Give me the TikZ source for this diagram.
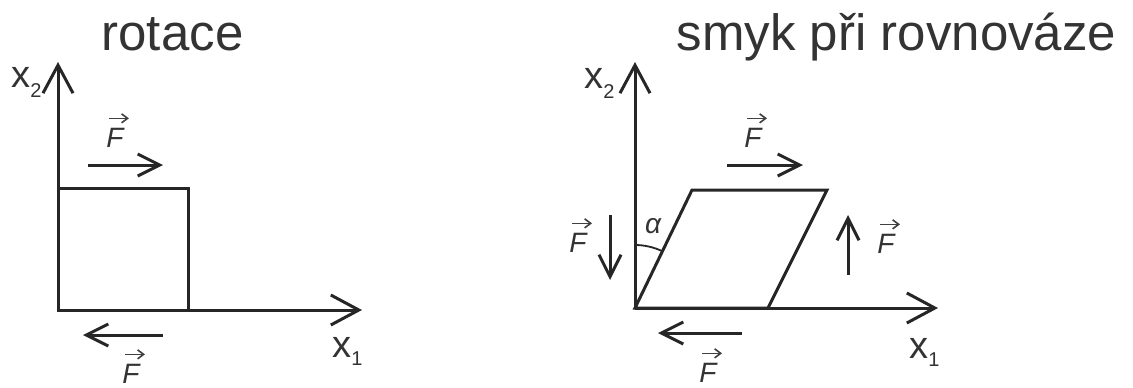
\documentclass[tikz,border=0pt]{standalone}
\usepackage{fontspec}
\setmainfont{Liberation Sans}
\usetikzlibrary{arrows.meta}
\begin{document}
\begin{tikzpicture}[x=0.5pt,y=-0.5pt,
  ink/.style={draw=black!85, line width=1.5pt},
  axis/.style={ink, -{Straight Barb[length=14pt,width=15pt]}},
  force/.style={ink, -{Straight Barb[length=11pt,width=11pt]}},
  vecarr/.style={draw=black!75, line width=0.8pt, -{Straight Barb[length=3pt,width=4.5pt]}},
  lbl/.style={text=black!80, inner sep=0pt, anchor=base},
  ttl/.style={lbl, font=\fontsize{25.5}{30}\selectfont},
  flbl/.style={lbl, font=\fontsize{14}{16}\selectfont\itshape},
  albl/.style={lbl, font=\fontsize{14}{16}\selectfont\itshape},
  xlbl/.style={lbl, anchor=base west, font=\fontsize{19}{21}\selectfont}]
\useasboundingbox (0,0) rectangle (1133,387);
\fill[white] (0,0) rectangle (1133,387);

% ---------- titles ----------
\node[ttl] (t1) at (172.5,50) {rotace};
\node[ttl] (t2) at (896.5,50) {smyk při rovnováze};

% ---------- left: rotation ----------
\coordinate (O1) at (58,310);
\coordinate (Y1) at (58,62);
\coordinate (X1) at (362,310);
\coordinate (S1) at (188,188);
\draw[axis] (O1) -- (Y1);
\draw[axis] (O1) -- (X1);
\draw[ink, line join=miter] (O1) rectangle (S1);

\coordinate (FT1a) at (88,165);  \coordinate (FT1b) at (163,165);
\coordinate (FB1a) at (163,335); \coordinate (FB1b) at (83,335);
\draw[force] (FT1a) -- (FT1b);
\draw[force] (FB1a) -- (FB1b);

\node[flbl] (lf1) at (115,147) {F};
\node[flbl] (lf2) at (131,383) {F};
\node[xlbl] (lx2) at (11,87) {x\raisebox{-5pt}{\fontsize{10}{10}\selectfont 2}};
\node[xlbl] (lx1) at (332,357) {x\raisebox{-4pt}{\fontsize{10}{10}\selectfont 1}};

% ---------- right: shear at equilibrium ----------
\coordinate (O2) at (635,308);
\coordinate (Y2) at (635,62);
\coordinate (X2) at (938,308);
\coordinate (B2) at (768,308);
\coordinate (C2) at (827,190);
\coordinate (D2) at (692,190);
\draw[axis] (O2) -- (Y2);
\draw[axis] (O2) -- (X2);
\draw[ink, line join=miter] (O2) -- (B2) -- (C2) -- (D2) -- cycle;

\coordinate (A0) at (635,245);
\draw[draw=black!85, line width=0.9pt] (A0) arc[start angle=-90, end angle=-64.2, radius=63];

\coordinate (FT2a) at (727,165); \coordinate (FT2b) at (803,165);
\coordinate (FL2a) at (610,215); \coordinate (FL2b) at (610,280);
\coordinate (FR2a) at (848,275); \coordinate (FR2b) at (848,215);
\coordinate (FB2a) at (742,333); \coordinate (FB2b) at (658,333);
\draw[force] (FT2a) -- (FT2b);
\draw[force] (FL2a) -- (FL2b);
\draw[force] (FR2a) -- (FR2b);
\draw[force] (FB2a) -- (FB2b);

\node[flbl] (rf1) at (753,147) {F};
\node[flbl] (rf2) at (578,252) {F};
\node[flbl] (rf3) at (886,253) {F};
\node[flbl] (rf4) at (708,382) {F};
\node[albl] (ra) at (653,233) {α};
\node[xlbl] (rx2) at (584,88) {x\raisebox{-5pt}{\fontsize{10}{10}\selectfont 2}};
\node[xlbl] (rx1) at (909,358) {x\raisebox{-4pt}{\fontsize{10}{10}\selectfont 1}};

% vector arrows over the F labels
\foreach \n in {lf1,lf2,rf1,rf2,rf3,rf4}{
  \draw[vecarr] ([xshift=1.5pt,yshift=4.5pt]\n.north west) -- ([xshift=2.5pt,yshift=4.5pt]\n.north east);
}
\end{tikzpicture}
\end{document}
